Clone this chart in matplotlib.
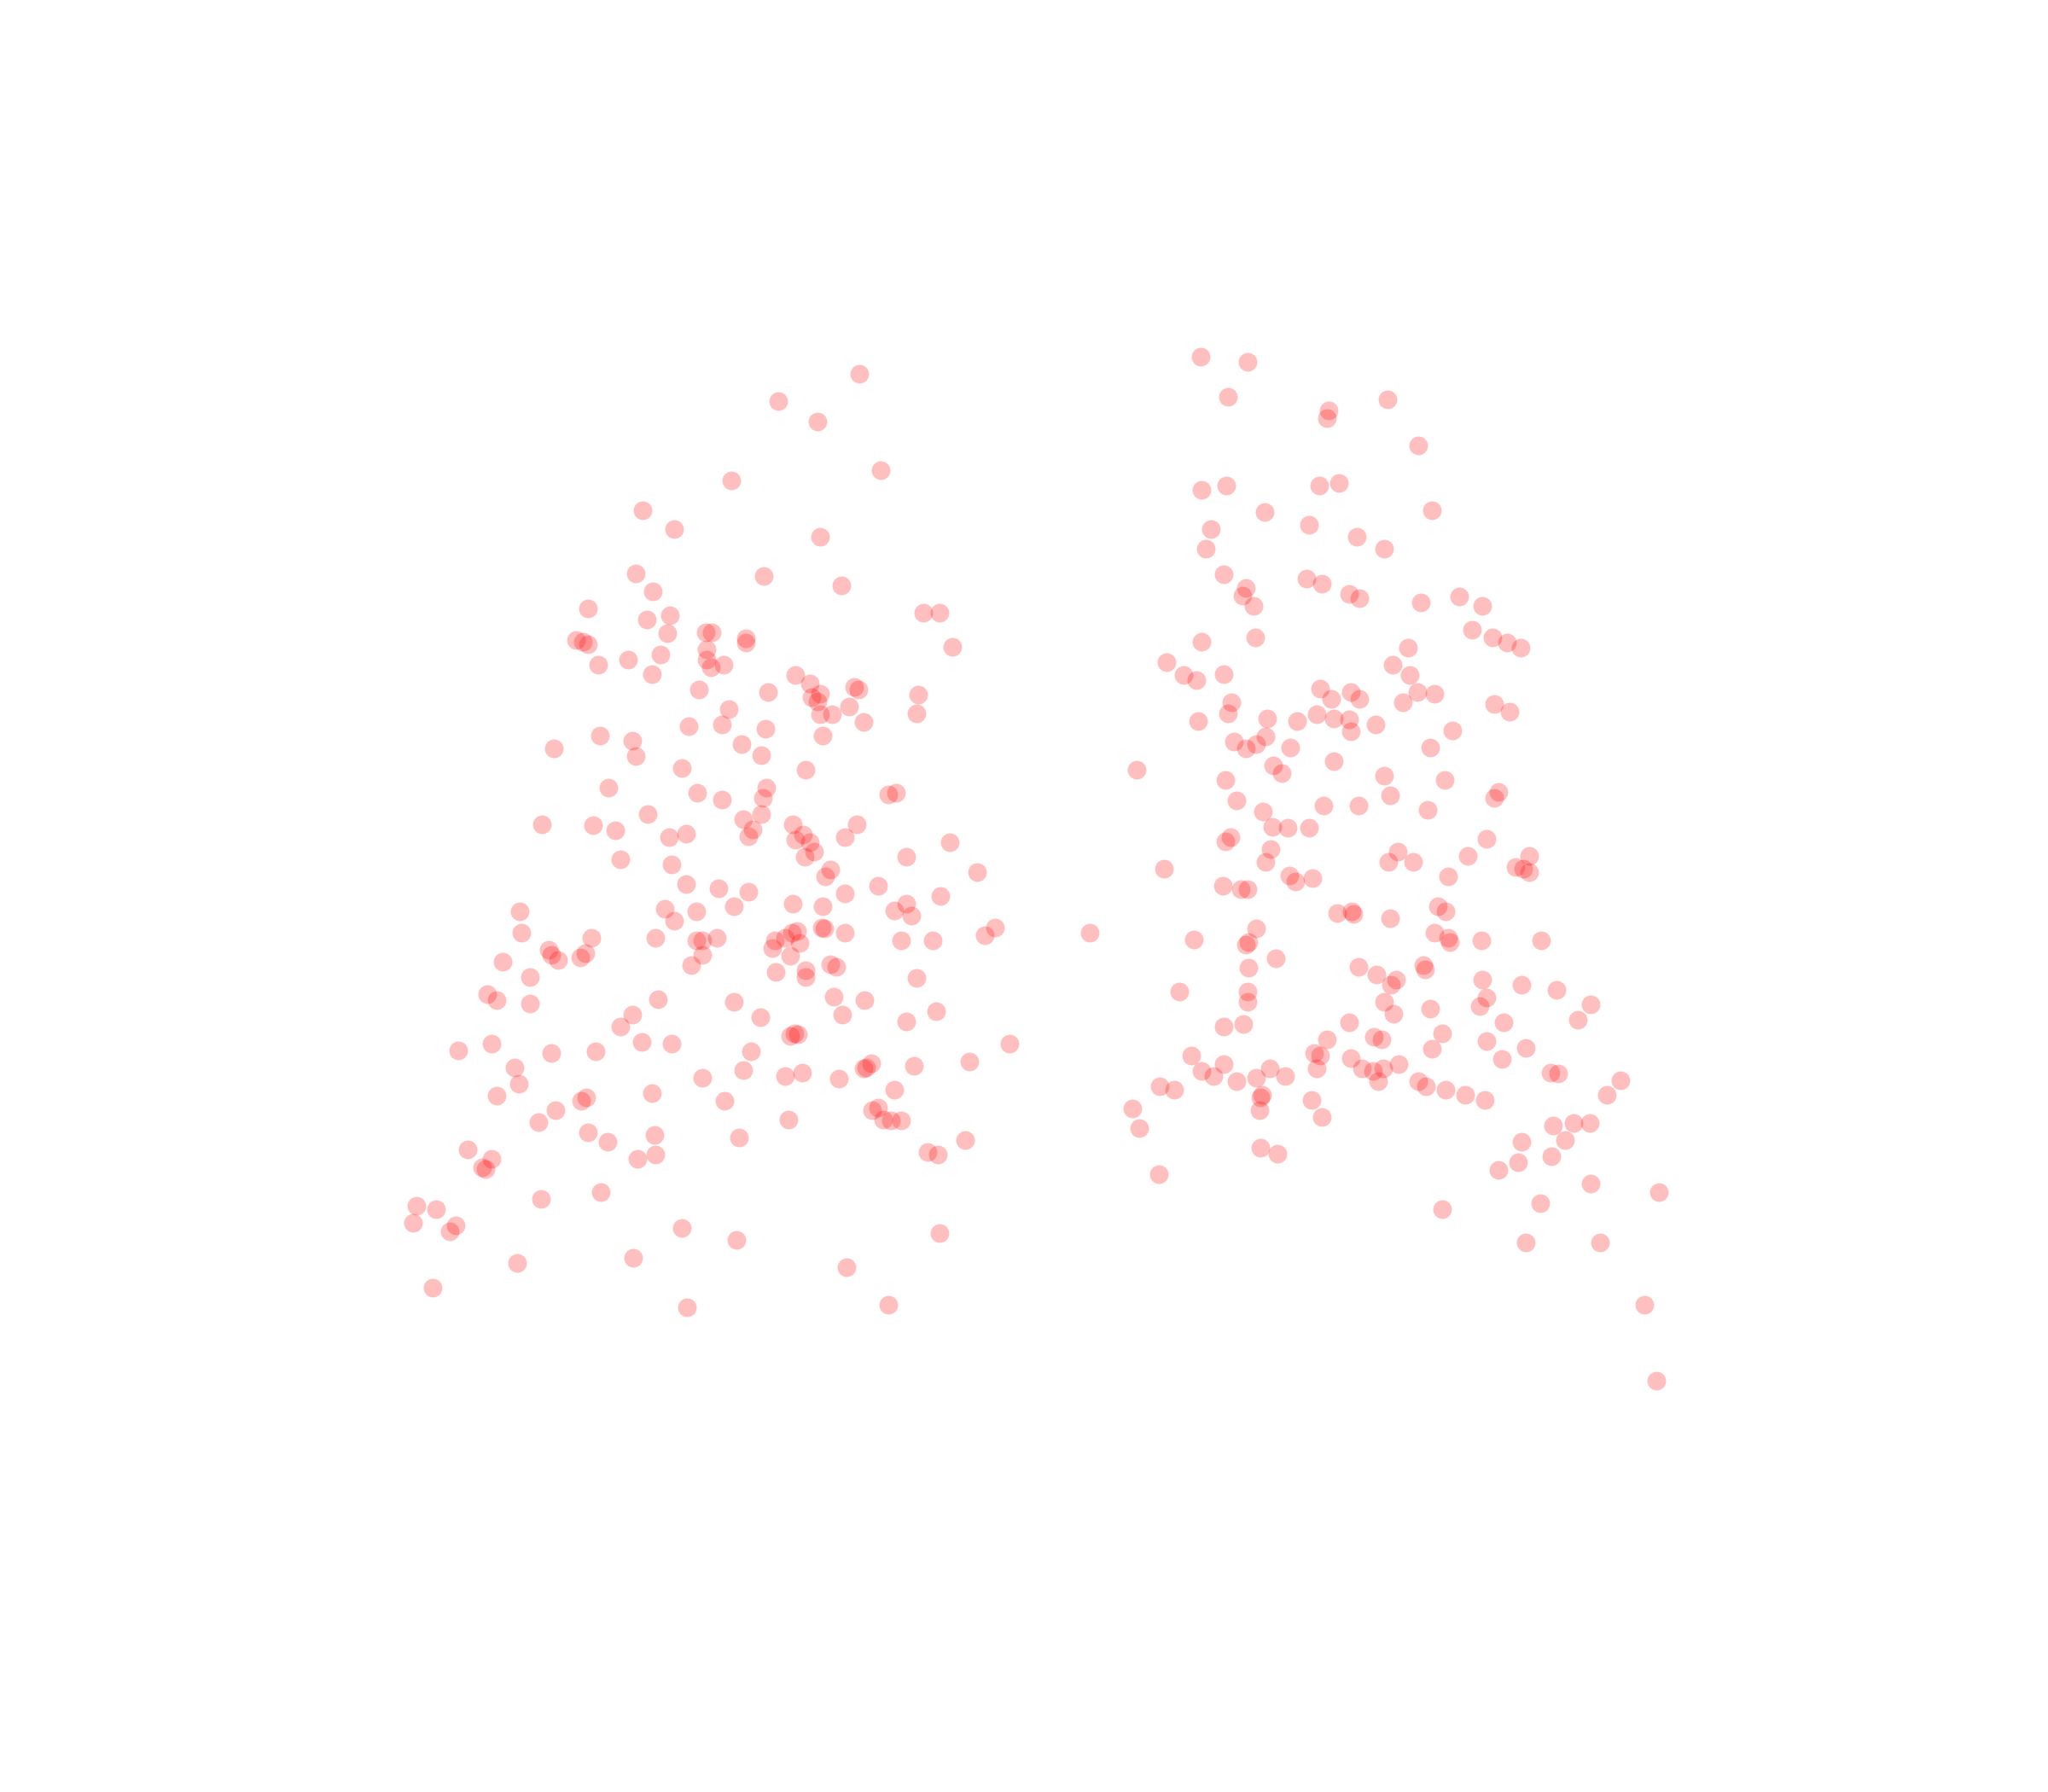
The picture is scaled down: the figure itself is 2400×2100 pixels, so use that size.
import matplotlib
matplotlib.use("Agg")
import matplotlib.pyplot as plt
import numpy as np

# Point positions (pixel-like units, y downward)
left_x = [658,596,626,674,560,492,516,628,585,487,644,500,450,513,707,719,495,540,545,511,571,571,441,446,450,541,729,506,481,541,554,458,544,499,609,620,535,588,654,657,703,628,621,626,558,650,637,628,702,553,527,586,661,459,484,568,630,424,487,583,522,617,466,587,534,553,584,680,686,496,583,569,415,454,471,607,525,512,576,573,615,609,620,656,647,727,616,623,475,514,694,636,632,748,525,672,550,573,647,720,694,607,630,562,509,533,685,698,398,516,762,754,399,631,629,610,606,647,601,593,591,612,502,533,538,549,690,714,453,420,422,427,444,448,605,538,529,636,640,594,617,617,385,406,702,373,380,406,504,562,638,662,717,484,582,645,694,475,491,514,376,351,422,456,575,605,611,608,773,742,394,700,661,667,663,569,538,601,614,642,397,685,380,449,445,499,555,668,672,676,682,690,425,412,604,450,465,501,566,739,710,718,358,376,369,372,488,502,460,414,319,334,316,349,344,522,719,564,485,396,648,331,680,526]
left_y = [286,307,323,360,368,391,405,411,441,439,448,453,466,471,469,469,474,484,484,485,489,492,490,491,493,497,495,501,505,505,509,509,511,516,517,523,528,530,526,528,532,531,534,537,543,541,547,547,546,555,556,558,553,563,567,570,563,573,579,578,588,589,603,603,607,612,611,608,607,623,623,627,631,632,636,631,638,641,635,640,639,643,645,631,641,645,656,652,658,662,656,666,671,668,677,678,680,683,684,686,692,692,694,694,696,698,697,701,698,705,710,716,714,711,710,713,714,714,718,720,726,722,718,720,720,718,720,720,718,727,731,735,733,730,732,731,739,738,740,744,743,748,736,748,749,761,766,768,765,767,763,766,774,777,779,777,782,786,798,799,799,804,806,805,805,793,792,791,799,813,817,816,818,814,817,819,825,824,821,826,830,834,839,840,843,837,843,850,848,857,858,858,850,859,857,867,874,869,871,873,882,884,880,887,894,895,887,884,913,918,923,926,936,938,943,940,944,949,963,967,970,986,999,1001]
right_x = [919,955,940,1062,1017,1016,1086,920,939,1010,1025,1096,968,927,1002,1039,923,1060,937,1000,1012,954,951,960,1033,1041,1088,1117,1135,1127,1143,1154,1164,961,920,1078,893,906,916,937,1066,1079,1011,1034,1019,1041,1085,1098,1074,943,940,1144,1156,917,970,993,1008,1021,1033,1053,1034,1112,945,954,962,969,988,1095,870,975,981,1021,938,1060,1106,947,1013,1040,1064,1093,1147,1144,967,974,986,1002,942,938,1138,973,969,1070,1063,1082,1124,1171,1160,1166,1171,891,987,992,1005,1109,936,950,955,1024,1035,1036,1064,1101,1107,834,914,962,956,954,1098,1109,1110,1134,1180,977,956,1040,1054,1069,1065,1090,1091,903,955,1135,1165,1192,955,1060,1067,1095,1138,1133,1218,1208,1151,937,952,1033,1016,1052,1058,1104,1138,1168,1096,912,1006,1011,1034,1008,937,1043,1051,1059,1071,1150,920,929,947,962,972,984,1055,1086,1092,1107,1122,1137,1187,1193,1241,1230,888,899,966,965,1004,964,867,872,1012,1189,1205,1217,1165,1198,965,978,1188,1162,1147,887,1218,1270,1179,1104,1168,1225,1259,1268]
right_y = [273,277,304,306,314,320,341,375,372,372,370,391,392,405,402,411,420,420,440,443,447,450,456,464,455,458,461,457,464,482,488,492,496,488,491,496,507,517,521,516,509,517,527,530,535,535,530,531,538,538,546,539,545,552,550,552,547,550,551,555,560,559,568,573,570,564,572,572,589,586,592,583,597,594,597,613,617,617,609,620,606,611,621,633,634,634,641,644,642,650,660,652,660,660,655,655,664,665,668,665,670,675,672,671,678,681,681,699,698,700,703,694,698,714,719,711,721,723,714,718,721,720,720,734,741,740,746,750,754,739,742,759,759,750,754,758,767,767,776,772,764,770,769,781,783,786,784,783,796,794,796,791,797,802,803,808,806,808,810,818,815,818,820,818,815,811,820,824,828,825,818,824,828,828,832,834,838,842,821,822,827,838,832,834,838,840,842,850,849,864,855,862,860,860,874,873,879,883,885,890,896,899,906,913,921,926,951,951,999,1057]

x = np.array(left_x + right_x, dtype=float)
y = np.array(left_y + right_y, dtype=float)

fig = plt.figure(figsize=(12, 10.5), dpi=200)
ax = fig.add_axes([0, 0, 1, 1])
ax.scatter(x, y, s=62, color="#ff0000", alpha=0.25, linewidths=0)
ax.set_xlim(0, 1568)
ax.set_ylim(1372, 0)
ax.axis("off")
fig.savefig("out.png", dpi=200, facecolor="white")
